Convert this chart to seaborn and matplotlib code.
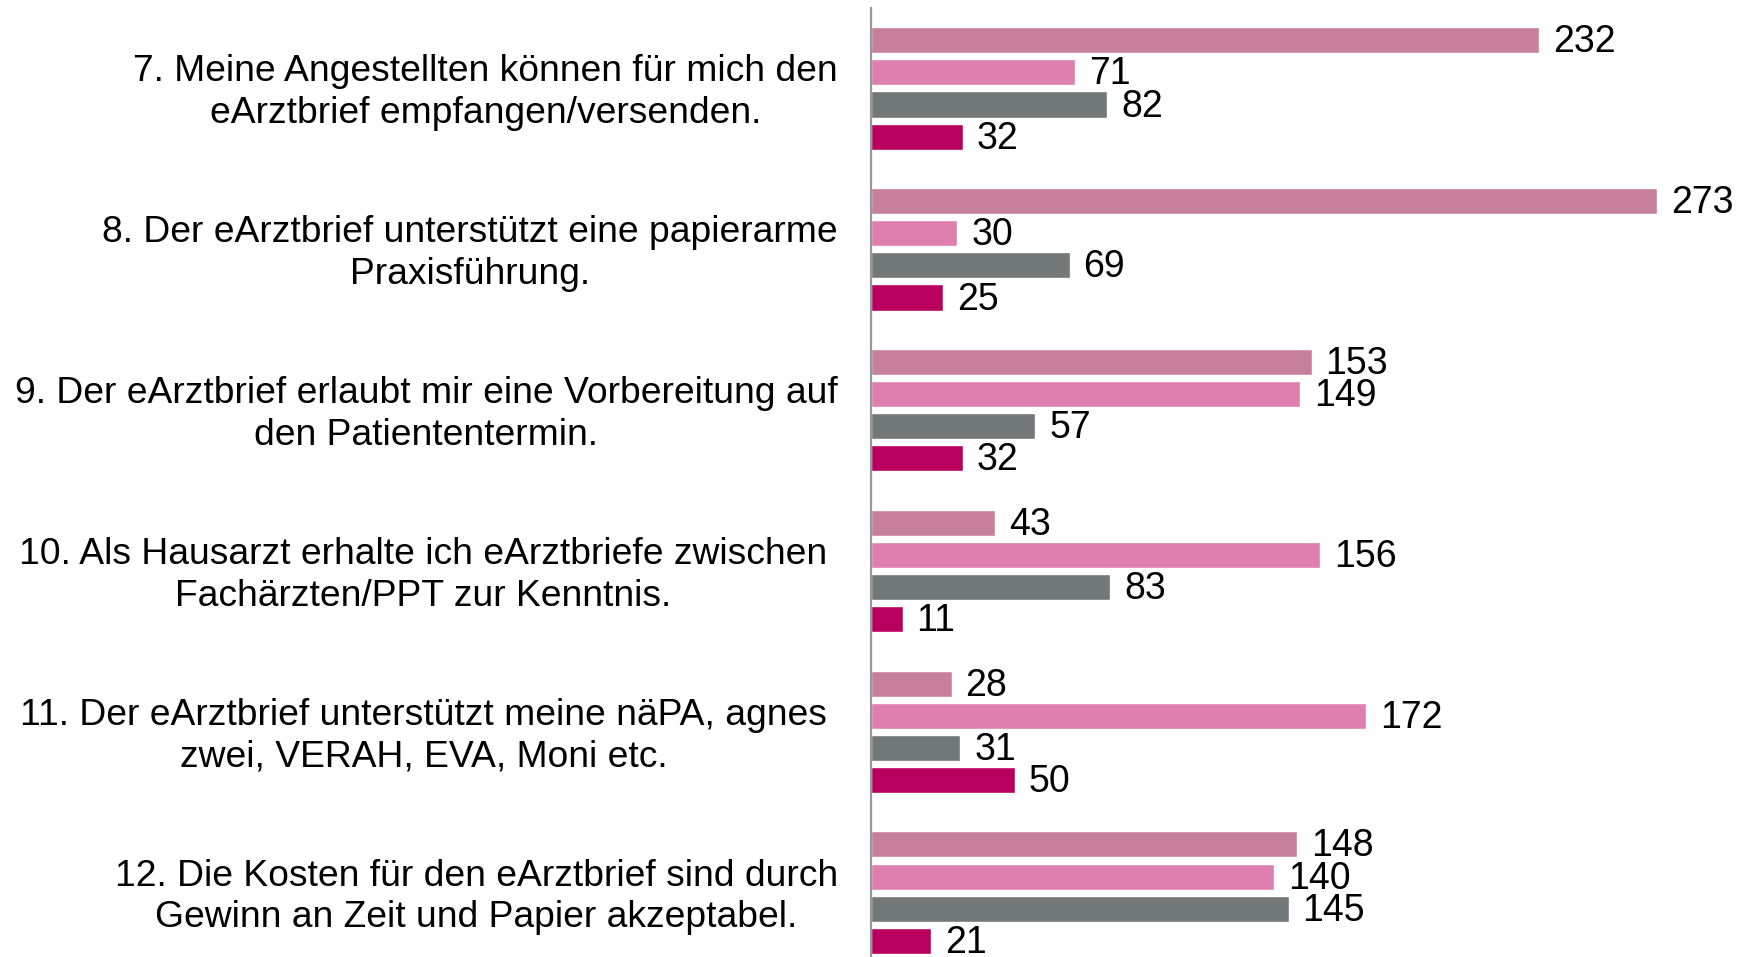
import matplotlib
matplotlib.use("Agg")
import matplotlib.pyplot as plt
import matplotlib.transforms as mtransforms
import seaborn as sns
import pandas as pd

# data
fragen = [
    "7. Meine Angestellten können für mich den\neArztbrief empfangen/versenden.",
    "8. Der eArztbrief unterstützt eine papierarme\nPraxisführung.",
    "9. Der eArztbrief erlaubt mir eine Vorbereitung auf\nden Patiententermin.",
    "10. Als Hausarzt erhalte ich eArztbriefe zwischen \nFachärzten/PPT zur Kenntnis. ",
    "11. Der eArztbrief unterstützt meine näPA, agnes \nzwei, VERAH, EVA, Moni etc. ",
    "12. Die Kosten für den eArztbrief sind durch\nGewinn an Zeit und Papier akzeptabel.",
]
reihen = ["Reihe 1", "Reihe 2", "Reihe 3", "Reihe 4"]
reihe1 = [232, 273, 153, 43, 28, 148]
reihe2 = [71, 30, 149, 156, 172, 140]
reihe3 = [82, 69, 57, 83, 31, 145]
reihe4 = [32, 25, 32, 11, 50, 21]
farben = ["#C6809C", "#DE7FAF", "#727877", "#B9005E"]

rows = []
for name, werte in zip(reihen, [reihe1, reihe2, reihe3, reihe4]):
    for f, w in zip(fragen, werte):
        rows.append({"frage": f, "reihe": name, "wert": w})
df = pd.DataFrame(rows)

sns.set_style("white")
plt.rcParams["font.family"] = ["Liberation Sans", "DejaVu Sans"]

fig = plt.figure(figsize=(17.5, 9.57), dpi=100)
ax = fig.add_axes([871 / 1750, 0, 1 - 871 / 1750, 949 / 957])

sns.barplot(data=df, y="frage", x="wert", hue="reihe", order=fragen,
            hue_order=reihen, palette=farben, orient="h", width=0.8,
            gap=0.19, legend=False, ax=ax, errorbar=None, saturation=1)

for cont in ax.containers:
    labels = ax.bar_label(cont, padding=11, fontsize=27, color="black")
    for t in labels:
        t.xyann = (10, -1.5)

ax.set_xlim(0, (1750 - 871) / 2.88)
ax.set_ylim(5.40, -0.5)
ax.set_xlabel("")
ax.set_ylabel("")
ax.set_xticks([])
for s in ["top", "right", "bottom"]:
    ax.spines[s].set_visible(False)
ax.spines["left"].set_color("#999999")
ax.spines["left"].set_linewidth(1.6)
ax.tick_params(axis="y", length=0, pad=24, labelsize=26.8, labelcolor="black")
shift = mtransforms.ScaledTranslation(0, 3 / 100, fig.dpi_scale_trans)
for t in ax.get_yticklabels():
    t.set_multialignment("center")
    t.set_linespacing(1.25)
    t.set_transform(t.get_transform() + shift)

fig.savefig("out.png", dpi=100)
